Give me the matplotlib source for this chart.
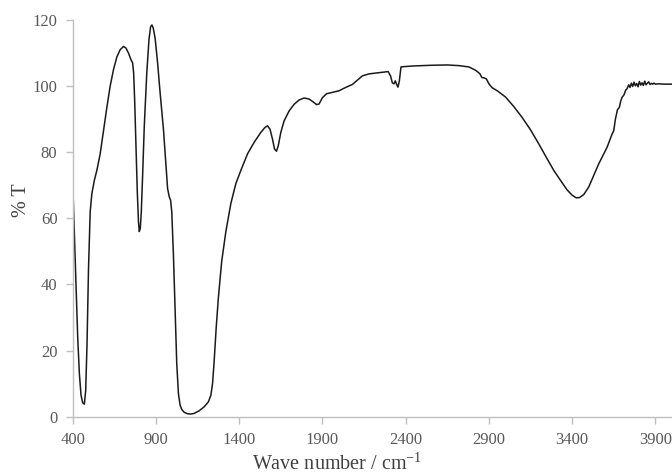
import matplotlib.pyplot as plt

# FTIR spectrum values (wave number, %T)
wave = [400, 410, 420, 430, 440, 450, 460, 470, 478, 486, 495, 505, 515, 530, 545, 565,
        585, 605, 625, 645, 665, 685, 705, 720, 735, 750, 760, 766, 772, 780, 788, 795,
        800, 806, 812, 820, 830, 845, 858, 868, 876, 884, 895, 910, 925, 945, 960, 970,
        980, 988, 995, 1005, 1015, 1025, 1035, 1045, 1055, 1070, 1090, 1110, 1130, 1160,
        1190, 1215, 1230, 1240, 1250, 1262, 1275, 1295, 1320, 1350, 1380, 1410, 1450, 1490,
        1530, 1555, 1570, 1585, 1600, 1612, 1624, 1635, 1650, 1670, 1700, 1730, 1760, 1790,
        1820, 1845, 1865, 1880, 1900, 1925, 1960, 2000, 2040, 2080, 2110, 2140, 2180, 2230,
        2280, 2295, 2310, 2320, 2330, 2338, 2346, 2354, 2362, 2372, 2390, 2450, 2550, 2650,
        2720, 2780, 2820, 2845, 2858, 2870, 2885, 2900, 2920, 2950, 3000, 3050, 3100, 3150,
        3200, 3250, 3290, 3330, 3370, 3400, 3425, 3445, 3470, 3500, 3530, 3560, 3590, 3610,
        3625, 3640, 3650, 3660, 3672, 3684, 3692, 3700, 3712, 3722, 3730, 3740, 3748, 3756,
        3764, 3772, 3780, 3788, 3796, 3804, 3812, 3820, 3828, 3836, 3844, 3852, 3860, 3868,
        3876, 3884, 3892, 3900, 3920, 3950, 4000]
trans = [71.0, 55.0, 38.0, 24.0, 13.0, 6.5, 4.2, 3.8, 8.0, 22.0, 45.0, 62.0, 67.5, 71.5, 74.5, 79.5,
         86.5, 93.5, 100.0, 105.0, 108.8, 111.0, 112.0, 111.5, 110.0, 108.0, 107.0, 104.0, 96.0, 82.0, 68.0, 59.0,
         56.0, 57.0, 62.0, 73.0, 88.0, 104.0, 114.0, 118.0, 118.5, 117.5, 114.5, 107.0, 98.0, 87.0, 76.0, 69.0,
         66.5, 65.5, 62.0, 49.0, 32.0, 16.0, 7.0, 3.5, 2.2, 1.3, 0.9, 0.8, 1.0, 1.8,
         3.0, 4.5, 6.5, 10.0, 17.0, 27.0, 36.0, 47.0, 56.0, 64.5, 70.5, 74.5, 79.5, 83.0,
         86.0, 87.5, 88.0, 87.0, 84.0, 81.0, 80.3, 82.0, 86.0, 89.5, 92.5, 94.5, 95.8, 96.4,
         96.1, 95.2, 94.4, 94.6, 96.5, 97.7, 98.1, 98.6, 99.6, 100.5, 101.8, 103.1, 103.7, 104.0,
         104.3, 104.4, 103.0, 101.0, 100.7, 101.6, 100.5, 99.7, 101.5, 105.8, 105.9, 106.1, 106.3, 106.4,
         106.2, 105.8, 104.8, 103.8, 102.6, 102.5, 102.2, 100.7, 99.5, 98.6, 96.7, 93.8, 90.5, 86.8,
         82.5, 78.0, 74.5, 71.5, 68.6, 67.0, 66.2, 66.3, 67.2, 69.5, 73.0, 76.5, 79.5, 81.5,
         83.5, 85.5, 86.5, 90.0, 92.8, 93.6, 95.5, 96.6, 97.4, 98.8, 99.2, 100.4, 99.6, 100.9,
         99.9, 101.2, 100.1, 100.8, 99.8, 101.4, 100.3, 101.0, 100.2, 101.5, 100.4, 100.9, 101.3, 100.5,
         100.8, 100.6, 100.9, 100.6, 100.7, 100.6, 100.6]

xticks = [400, 900, 1400, 1900, 2400, 2900, 3400, 3900]
yticks = [0, 20, 40, 60, 80, 100, 120]

plt.rcParams['font.family'] = ['Liberation Serif', 'DejaVu Serif']
plt.rcParams['mathtext.fontset'] = 'custom'
plt.rcParams['mathtext.rm'] = 'Liberation Serif'

fig = plt.figure(figsize=(6.72, 4.74), dpi=100)
ax = fig.add_axes([0.1082, 0.1209, 0.8918, 0.8369])

ax.plot(wave, trans, color='#1a1a1a', linewidth=1.1)

ax.set_xlim(400, 4000)
ax.set_ylim(0, 120)
ax.set_xticks(xticks)
ax.set_yticks(yticks)

grey = '#bfbfbf'
for side in ['top', 'right']:
    ax.spines[side].set_visible(False)
for side in ['left', 'bottom']:
    ax.spines[side].set_color(grey)
    ax.spines[side].set_linewidth(1.0)
ax.tick_params(axis='both', direction='out', length=5, width=1.0, color=grey,
               labelcolor='#595959', labelsize=12, pad=6)

ax.set_xlabel('Wave number / cm$^{\\mathregular{-1}}$', fontsize=14.5, color='#404040',
              va='baseline')
ax.set_ylabel('% T', fontsize=14.5, color='#404040', va='center')
ax.xaxis.set_label_coords(0.441, -0.134)
ax.yaxis.set_label_coords(-0.0854, 0.546)

fig.savefig('out.png', dpi=100)
